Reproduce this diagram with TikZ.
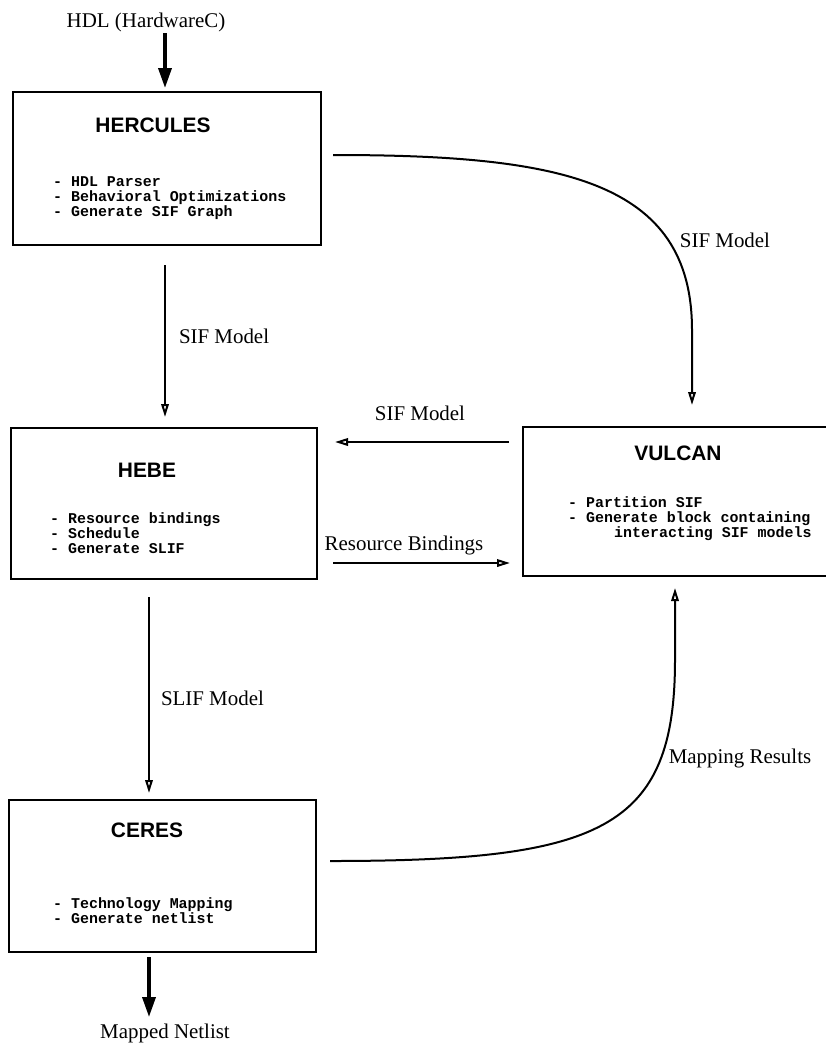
\documentclass[tikz,border=0pt]{standalone}
\usepackage{fontspec}
\setmainfont{Liberation Serif}
\setmonofont{Liberation Mono}
\newfontfamily\headfont{Liberation Sans}
\usetikzlibrary{positioning,arrows.meta}

\tikzset{
  flow/.style={-{Triangle[open,length=13bp,width=7.5bp]},line width=2bp},
  feed/.style={-{Triangle[length=20bp,width=13bp]},line width=3.5bp},
  block/.style args={#1,#2}{
  draw=black,
  line width=2.4bp,
  inner sep=0pt,
  outer sep=0pt,
  minimum width=#1bp,
  minimum height=#2bp,
  },
  title/.style={inner sep=0pt,font=\headfont\bfseries\fontsize{21}{21}\selectfont},
  items/.style={inner sep=0pt,align=left,font=\ttfamily\bfseries\fontsize{15}{14.8}\selectfont},
  lbl/.style={inner sep=0pt,font=\fontsize{21}{22}\selectfont}
}

\begin{document}
\begin{tikzpicture}[x=1bp,y=-1bp]
  \useasboundingbox (0,0) rectangle (826,1047);

  \node [block={308,153}] (herc) at (167,168.5) {};
  \node [block={306,151},below=183bp of herc,xshift=-3bp] (hebe) {};
  \node [block={307,152},below=221bp of hebe,xshift=-1.5bp] (ceres) {};
  \node [block={310,149},right=206bp of hebe,yshift=2bp] (vulc) {};

  \node [title,below=25.5bp of herc.north,xshift=-14bp] (herct) {HERCULES};
  \node [title,below=34.5bp of hebe.north,xshift=-17bp] (hebet) {HEBE};
  \node [title,below=18.5bp of vulc.north] (vulct) {VULCAN};
  \node [title,below=22.5bp of ceres.north,xshift=-15.5bp] (cerest) {CERES};

  \node [items,below right=84.5bp and 40bp of herc.north west] (herci)
    {- HDL Parser\\- Behavioral Optimizations\\- Generate SIF Graph};
  \node [items,below right=84.5bp and 39bp of hebe.north west] (hebei)
    {- Resource bindings\\- Schedule\\- Generate SLIF};
  \node [items,below right=69.5bp and 45bp of vulc.north west] (vulci)
    {- Partition SIF\\- Generate block containing\\\hspace*{46bp}interacting SIF models};
  \node [items,below right=97.5bp and 44bp of ceres.north west] (ceresi)
    {- Technology Mapping\\- Generate netlist};

  \node [lbl,above=60bp of herc,xshift=-21bp] (hdl) {HDL (HardwareC)};
  \node [lbl,below=72bp of ceres,xshift=2.5bp] (mnet) {Mapped Netlist};

  \draw [feed,shorten <=1bp,shorten >=4bp] ([xshift=-2bp]herc.north |- hdl.south) -- ([xshift=-2bp]herc.north);
  \draw [feed,shorten <=5bp,shorten >=7bp] ([xshift=-13.5bp]ceres.south) -- ([xshift=-13.5bp]ceres.south |- mnet.north);

  \draw [flow,shorten <=20bp,shorten >=11bp] ([xshift=-2bp]herc.south) -- ([xshift=-2bp]herc.south |- hebe.north)
    node [lbl,midway,right=13bp] (sif1) {SIF Model};
  \draw [flow,shorten <=18bp,shorten >=7bp] ([xshift=-15bp]hebe.south) -- ([xshift=-15bp]hebe.south |- ceres.north)
    node [lbl,pos=0.54,right=11bp] (slif) {SLIF Model};
  \draw [flow,shorten <=14bp,shorten >=18bp] ([yshift=59.5bp]vulc.west) -- ([yshift=59.5bp]vulc.west -| hebe.east)
    node [lbl,midway,above=20bp] (sif2) {SIF Model};
  \draw [flow,shorten <=16bp,shorten >=13bp] ([yshift=-59.5bp]hebe.east) -- ([yshift=-59.5bp]hebe.east -| vulc.west)
    node [lbl,midway,above=6.5bp,xshift=-16bp] (rbind) {Resource Bindings};

  % curved feeds into VULCAN
  \draw [flow,shorten <=12bp,shorten >=22bp] ([yshift=13.5bp]herc.east) .. controls +(239,0) and +(0,-150) .. ++(371,175) -- ([xshift=14bp]vulc.north);
  \draw [flow,shorten <=14bp,shorten >=12bp] ([yshift=15bp]ceres.east) .. controls +(284,0) and +(0,170) .. ++(359,-201) -- ([xshift=-3bp]vulc.south);
  \node [lbl] (sif3) at (725,240) {SIF Model};
  \node [lbl] (mres) at (740,758) {Mapping Results};
\end{tikzpicture}
\end{document}
